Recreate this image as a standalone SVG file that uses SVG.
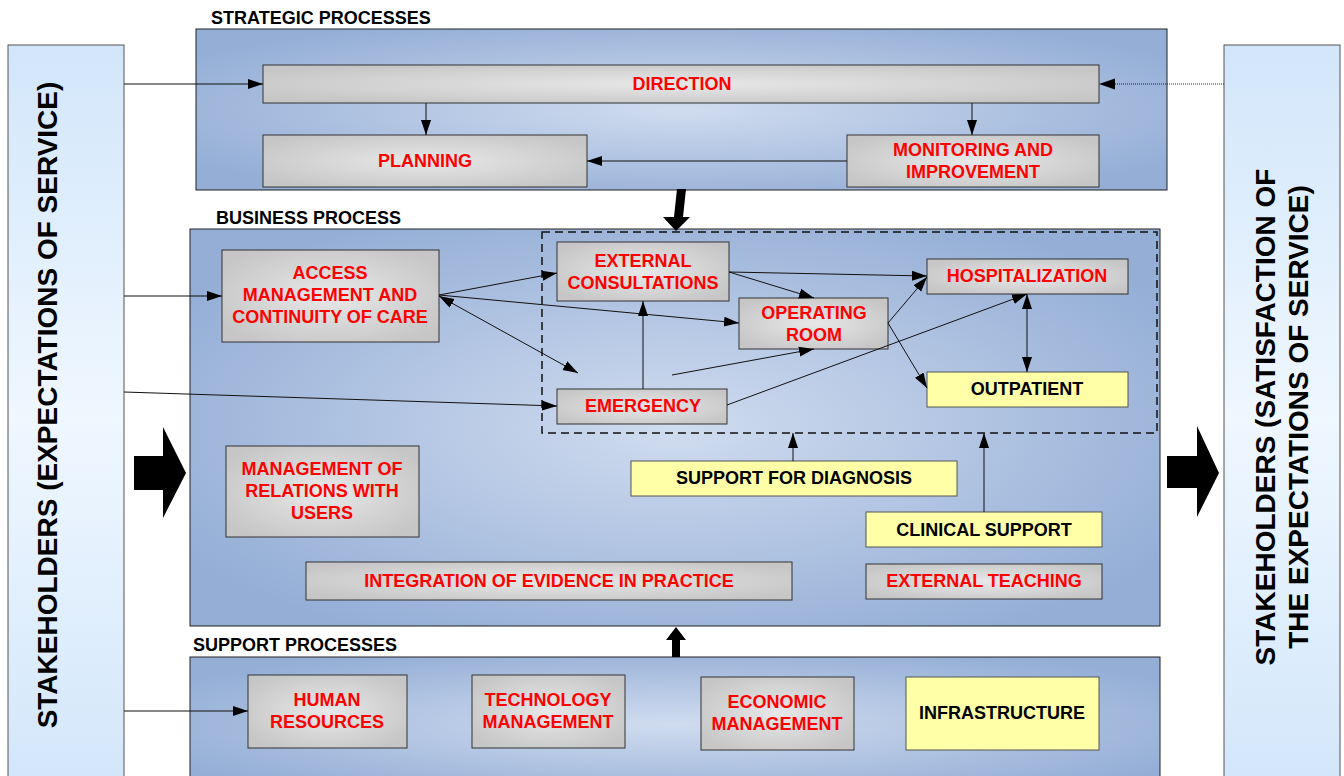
<svg xmlns="http://www.w3.org/2000/svg" width="1344" height="776" viewBox="0 0 1344 776">
<defs>
<linearGradient id="stk" x1="0" y1="0" x2="0" y2="1">
<stop offset="0" stop-color="#d2e6fa"/>
<stop offset="0.5" stop-color="#eff7ff"/>
<stop offset="1" stop-color="#d2e6fa"/>
</linearGradient>
<radialGradient id="pan" cx="0.5" cy="0.5" r="0.6">
<stop offset="0" stop-color="#d0dcef"/>
<stop offset="1" stop-color="#94aed6"/>
</radialGradient>
<radialGradient id="grey" cx="0.5" cy="0.5" r="0.6">
<stop offset="0" stop-color="#e8e8e8"/>
<stop offset="1" stop-color="#c6c6c6"/>
</radialGradient>
<marker id="ah" markerUnits="userSpaceOnUse" markerWidth="16" markerHeight="12" viewBox="0 0 16 12" refX="15" refY="6" orient="auto-start-reverse">
<path d="M0,1 L15,6 L0,11 z" fill="#000"/>
</marker>
<style>
.stk{fill:url(#stk);stroke:#555;stroke-width:1}
.pan{fill:url(#pan);stroke:#222;stroke-width:1}
.g{fill:url(#grey);stroke:#333;stroke-width:1}
.y{fill:#ffffa8;stroke:#555;stroke-width:1}
.t{font-family:"Liberation Sans",Arial,sans-serif;font-weight:bold;font-size:18px;text-anchor:middle;fill:#ff0000}
.tb{font-family:"Liberation Sans",Arial,sans-serif;font-weight:bold;font-size:18px;text-anchor:middle;fill:#000}
.lab{font-family:"Liberation Sans",Arial,sans-serif;font-weight:bold;font-size:18px;fill:#000}
.st{font-family:"Liberation Sans",Arial,sans-serif;font-weight:bold;font-size:28px;text-anchor:middle;fill:#000}
.c{fill:none;stroke:#111;stroke-width:1;marker-end:url(#ah)}
.cd{fill:none;stroke:#111;stroke-width:1;marker-end:url(#ah);marker-start:url(#ah)}
.dash{fill:none;stroke:#111;stroke-width:1.5;stroke-dasharray:8 5}
</style>
</defs>
<rect width="1344" height="776" fill="#fff"/>

<g id="stakeholders-left">
<rect class="stk" x="8" y="45" width="116" height="745"/>
<text class="st" transform="translate(57,405) rotate(-90)">STAKEHOLDERS (EXPECTATIONS OF SERVICE)</text>
</g>
<g id="stakeholders-right">
<rect class="stk" x="1224" y="45" width="116" height="745"/>
<text class="st" transform="translate(1275,417) rotate(-90)">STAKEHOLDERS (SATISFACTION OF</text>
<text class="st" transform="translate(1308,417) rotate(-90)">THE EXPECTATIONS OF SERVICE)</text>
</g>

<g id="strategic-panel">
<rect class="pan" x="196" y="29" width="971" height="161"/>
<text class="lab" x="211" y="24">STRATEGIC PROCESSES</text>
</g>
<g id="business-panel">
<rect class="pan" x="190" y="229" width="970" height="397"/>
<text class="lab" x="216" y="224">BUSINESS PROCESS</text>
<rect class="dash" x="542" y="232" width="615" height="201"/>
</g>
<g id="support-panel">
<rect class="pan" x="190" y="657" width="970" height="135"/>
<text class="lab" x="193" y="651">SUPPORT PROCESSES</text>
</g>

<g id="direction">
<rect class="g" x="263" y="65" width="836" height="38"/>
<text class="t" x="682" y="90">DIRECTION</text>
</g>
<g id="planning">
<rect class="g" x="263" y="135" width="324" height="52"/>
<text class="t" x="425" y="167">PLANNING</text>
</g>
<g id="monitoring">
<rect class="g" x="847" y="135" width="252" height="52"/>
<text class="t" x="973" y="156">MONITORING AND</text>
<text class="t" x="973" y="178">IMPROVEMENT</text>
</g>

<g id="access">
<rect class="g" x="222" y="250" width="217" height="92"/>
<text class="t" x="330" y="279">ACCESS</text>
<text class="t" x="330" y="301">MANAGEMENT AND</text>
<text class="t" x="330" y="323">CONTINUITY OF CARE</text>
</g>
<g id="external-consultations">
<rect class="g" x="557" y="242" width="172" height="59"/>
<text class="t" x="643" y="267">EXTERNAL</text>
<text class="t" x="643" y="289">CONSULTATIONS</text>
</g>
<g id="operating-room">
<rect class="g" x="739" y="298" width="149" height="51"/>
<text class="t" x="814" y="319">OPERATING</text>
<text class="t" x="814" y="341">ROOM</text>
</g>
<g id="emergency">
<rect class="g" x="557" y="389" width="170" height="35"/>
<text class="t" x="643" y="412">EMERGENCY</text>
</g>
<g id="hospitalization">
<rect class="g" x="927" y="259" width="201" height="35"/>
<text class="t" x="1027" y="282">HOSPITALIZATION</text>
</g>
<g id="outpatient">
<rect class="y" x="927" y="372" width="201" height="35"/>
<text class="tb" x="1027" y="395">OUTPATIENT</text>
</g>
<g id="relations-users">
<rect class="g" x="226" y="446" width="193" height="91"/>
<text class="t" x="322" y="475">MANAGEMENT OF</text>
<text class="t" x="322" y="497">RELATIONS WITH</text>
<text class="t" x="322" y="519">USERS</text>
</g>
<g id="support-diagnosis">
<rect class="y" x="631" y="461" width="326" height="35"/>
<text class="tb" x="794" y="484">SUPPORT FOR DIAGNOSIS</text>
</g>
<g id="clinical-support">
<rect class="y" x="866" y="512" width="236" height="35"/>
<text class="tb" x="984" y="536">CLINICAL SUPPORT</text>
</g>
<g id="external-teaching">
<rect class="g" x="866" y="564" width="236" height="35"/>
<text class="t" x="984" y="587">EXTERNAL TEACHING</text>
</g>
<g id="integration-evidence">
<rect class="g" x="306" y="562" width="486" height="38"/>
<text class="t" x="549" y="587">INTEGRATION OF EVIDENCE IN PRACTICE</text>
</g>

<g id="human-resources">
<rect class="g" x="248" y="675" width="159" height="73"/>
<text class="t" x="327" y="706">HUMAN</text>
<text class="t" x="327" y="728">RESOURCES</text>
</g>
<g id="technology-management">
<rect class="g" x="472" y="675" width="153" height="73"/>
<text class="t" x="548" y="706">TECHNOLOGY</text>
<text class="t" x="548" y="728">MANAGEMENT</text>
</g>
<g id="economic-management">
<rect class="g" x="701" y="677" width="153" height="73"/>
<text class="t" x="777" y="708">ECONOMIC</text>
<text class="t" x="777" y="730">MANAGEMENT</text>
</g>
<g id="infrastructure">
<rect class="y" x="906" y="677" width="193" height="73"/>
<text class="tb" x="1002" y="719">INFRASTRUCTURE</text>
</g>

<g id="connectors">
<path class="c" d="M124,84 L263,84"/>
<path d="M1224,84 L1112,84" fill="none" stroke="#222" stroke-width="1" stroke-dasharray="1 1"/>
<path d="M1099,84 L1115,78.5 L1115,89.5 z" fill="#000"/>
<path class="c" d="M426,103 L426,135"/>
<path class="c" d="M972,103 L972,135"/>
<path class="c" d="M847,161 L587,161"/>
<path class="c" d="M124,296 L222,296"/>
<path class="c" d="M124,392 L557,406"/>
<path class="c" d="M124,711 L248,711"/>
<path class="c" d="M439,295 L557,273"/>
<path class="c" d="M439,295 L739,323"/>
<path class="cd" d="M439,296 L578,373"/>
<path class="c" d="M643,389 L643,301"/>
<path class="c" d="M672,375 L814,349"/>
<path class="c" d="M729,272 L927,276"/>
<path class="c" d="M729,272 L814,298"/>
<path class="c" d="M888,323 L927,277"/>
<path class="c" d="M888,323 L927,388"/>
<path class="c" d="M727,405 L1027,294"/>
<path class="cd" d="M1027,294 L1027,372"/>
<path class="c" d="M793,461 L793,433"/>
<path class="c" d="M984,512 L984,433"/>
<polygon points="677,189 686,189 683,217 690,217 676,231 663,217 674,217" fill="#000"/>
<polygon points="672,657 680,657 680,640 686,640 676,627 666,640 672,640" fill="#000"/>
<polygon points="134,456 163,456 163,427 186,473 163,518 163,490 134,490" fill="#000"/>
<polygon points="1167,456 1197,456 1197,426 1219,473 1197,517 1197,488 1167,488" fill="#000"/>
</g>
</svg>
